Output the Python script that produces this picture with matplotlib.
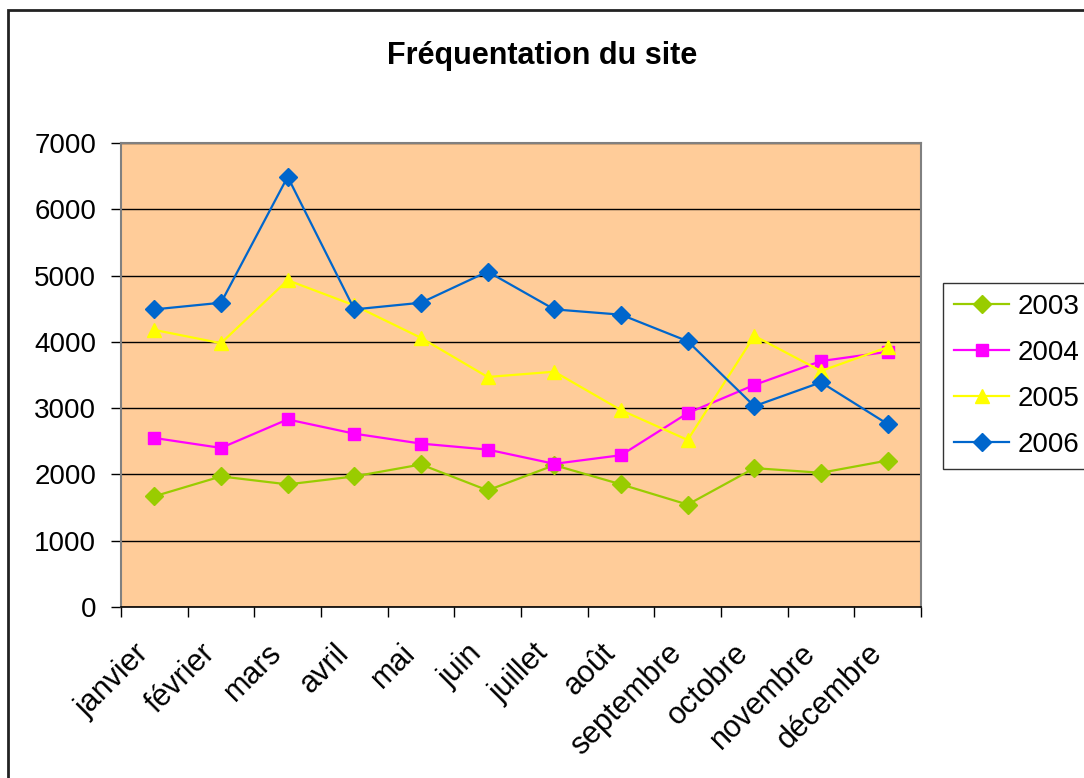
import matplotlib
matplotlib.use("Agg")
import matplotlib.pyplot as plt
from matplotlib.patches import Rectangle
from matplotlib.transforms import ScaledTranslation
import numpy as np

plt.rcParams['font.family'] = ['Liberation Sans', 'DejaVu Sans']

months = ["janvier", "février", "mars", "avril", "mai", "juin", "juillet",
          "août", "septembre", "octobre", "novembre", "décembre"]
s2003 = [1670, 1970, 1850, 1970, 2150, 1760, 2140, 1850, 1545, 2095, 2025, 2210]
s2004 = [2550, 2400, 2830, 2615, 2465, 2375, 2160, 2290, 2925, 3350, 3710, 3850]
s2005 = [4180, 3980, 4930, 4550, 4060, 3470, 3550, 2970, 2520, 4090, 3560, 3920]
s2006 = [4490, 4590, 6490, 4490, 4590, 5060, 4490, 4410, 4010, 3030, 3390, 2760]
yticks = [0, 1000, 2000, 3000, 4000, 5000, 6000, 7000]

W, H = 1084, 778
fig = plt.figure(figsize=(W / 100, H / 100), dpi=100)
fig.patch.set_facecolor("white")

# outer chart border
fig.patches.append(Rectangle((8 / W, 1 - 780 / H), (1100 - 8) / W, (780 - 10) / H,
                             transform=fig.transFigure, fill=False,
                             edgecolor="#222222", linewidth=2, zorder=0))

ax = fig.add_axes([121 / W, 1 - 607 / H, 800 / W, 464 / H])
ax.set_facecolor("#FFCC99")

x = np.arange(len(months))
series = [
    ("2003", s2003, "#99CC00", "D", 9.5),
    ("2004", s2004, "#FF00FF", "s", 9),
    ("2005", s2005, "#FFFF00", "^", 10.5),
    ("2006", s2006, "#0066CC", "D", 9.5),
]
for name, vals, col, mk, ms in series:
    ax.plot(x, vals, color=col, linewidth=1.6, marker=mk, markersize=ms,
            markerfacecolor=col, markeredgecolor=col, label=name, zorder=3)

ax.set_ylim(0, 7000)
ax.set_yticks(yticks)
ax.set_yticklabels([str(v) for v in yticks])
ax.yaxis.grid(True, color="black", linewidth=1.0)
ax.set_axisbelow(True)

ax.set_xlim(-0.5, len(months) - 0.5)
ax.set_xticks(np.arange(-0.5, len(months), 1.0))
ax.set_xticklabels([])
ax.set_xticks(x, minor=True)
ax.set_xticklabels(months, minor=True, rotation=45, ha="right", va="center",
                   rotation_mode="anchor", fontsize=22)
ax.tick_params(axis="x", which="minor", length=0, pad=30)
ax.tick_params(axis="x", which="major", length=7, width=1, color="black", direction="out")
ax.tick_params(axis="y", length=7, width=1, color="black", direction="out",
               labelsize=20, pad=11)
shift = ScaledTranslation(-0.10, 0, fig.dpi_scale_trans)
for lab in ax.get_xticklabels(minor=True):
    lab.set_transform(lab.get_transform() + shift)

for side in ["top", "right", "left"]:
    ax.spines[side].set_color("#808080")
    ax.spines[side].set_linewidth(1.5)
ax.spines["bottom"].set_color("black")
ax.spines["bottom"].set_linewidth(1.2)

fig.text(542 / W, 1 - 56 / H, "Fréquentation du site", ha="center", va="center",
         fontsize=22, fontweight="bold")

leg = ax.legend(loc="upper left", bbox_to_anchor=(943 / W, 1 - 283 / H),
                bbox_transform=fig.transFigure, borderaxespad=0, fontsize=20,
                fancybox=False, frameon=True, edgecolor="black",
                handlelength=1.98, handletextpad=0.29, labelspacing=0.72,
                borderpad=0.4)
leg.get_frame().set_linewidth(1.0)

fig.savefig("out.png", dpi=100)
